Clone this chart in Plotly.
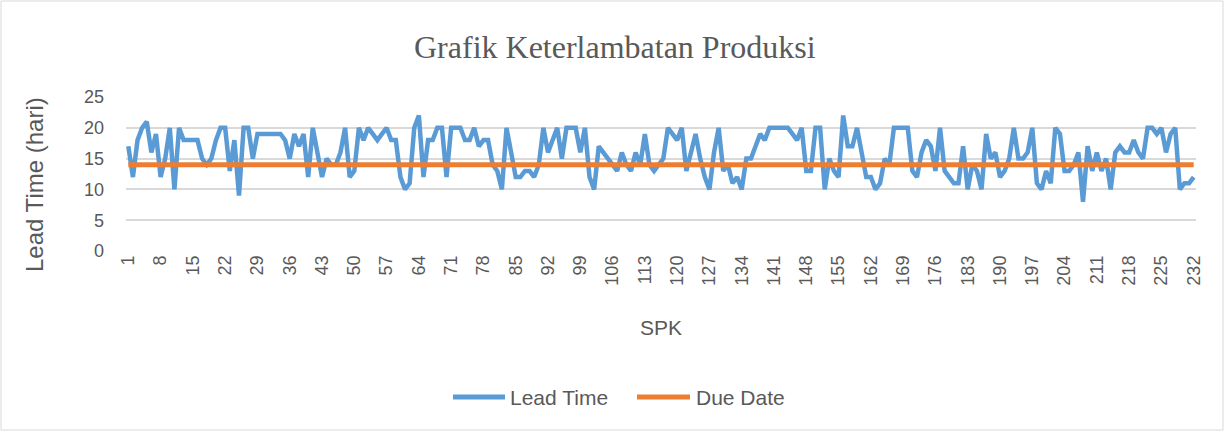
import plotly.graph_objects as go

lead_time = [
    17, 12, 18, 20, 21, 16, 19, 12, 15, 20,   # 1-10
    10, 20, 18, 18, 18, 18, 15, 14, 15, 18,   # 11-20
    20, 20, 13, 18, 9, 20, 20, 15, 19, 19,    # 21-30
    19, 19, 19, 19, 18, 15, 19, 17, 19, 12,   # 31-40
    20, 16, 12, 15, 14, 14, 16, 20, 12, 13,   # 41-50
    20, 18, 20, 19, 18, 19, 20, 18, 18, 12,   # 51-60
    10, 11, 20, 22, 12, 18, 18, 20, 20, 12,   # 61-70
    20, 20, 20, 18, 18, 20, 17, 18, 18, 14,   # 71-80
    13, 10, 20, 16, 12, 12, 13, 13, 12, 14,   # 81-90
    20, 16, 18, 20, 15, 20, 20, 20, 16, 20,   # 91-100
    12, 10, 17, 16, 15, 14, 13, 16, 14, 13,   # 101-110
    16, 14, 19, 14, 13, 14, 15, 20, 19, 18,   # 111-120
    20, 13, 16, 19, 15, 12, 10, 16, 20, 13,   # 121-130
    14, 11, 12, 10, 15, 15, 17, 19, 18, 20,   # 131-140
    20, 20, 20, 20, 19, 18, 20, 13, 13, 20,   # 141-150
    20, 10, 15, 13, 12, 22, 17, 17, 20, 16,   # 151-160
    12, 12, 10, 11, 15, 14, 20, 20, 20, 20,   # 161-170
    13, 12, 16, 18, 17, 13, 20, 13, 12, 11,   # 171-180
    11, 17, 10, 14, 13, 10, 19, 15, 16, 12,   # 181-190
    13, 15, 20, 15, 15, 16, 20, 11, 10, 13,   # 191-200
    11, 20, 19, 13, 13, 14, 16, 8, 17, 13,    # 201-210
    16, 13, 15, 10, 16, 17, 16, 16, 18, 16,   # 211-220
    15, 20, 20, 19, 20, 16, 19, 20, 10, 11,   # 221-230
    11, 12,                                   # 231-232
]
spk = list(range(1, len(lead_time) + 1))
due_date = [14] * len(spk)
x_tick_vals = list(range(1, 233, 7))
y_tick_vals = [0, 5, 10, 15, 20, 25]
series_names = ["Lead Time", "Due Date"]
series_colors = ["#5b9bd5", "#ed7d31"]

font_family = "Liberation Sans, Arial, sans-serif"
grey_text = "#595959"

# pixel -> paper helpers (plot area: x 126..1196, y 97..251)
def px(x):
    return (x - 126) / 1070

def py(y):
    return (251 - y) / 154

fig = go.Figure()
fig.add_trace(go.Scatter(x=spk, y=lead_time, mode="lines", name=series_names[0],
                         line=dict(color=series_colors[0], width=4.5)))
fig.add_trace(go.Scatter(x=spk, y=due_date, mode="lines", name=series_names[1],
                         line=dict(color=series_colors[1], width=5)))

fig.update_layout(
    width=1225, height=432,
    margin=dict(l=126, r=29, t=97, b=181),
    paper_bgcolor="white", plot_bgcolor="white",
    showlegend=False,
    font=dict(family=font_family, color=grey_text),
)
fig.update_xaxes(
    range=[0.5, 232.5], tickmode="array", tickvals=x_tick_vals,
    ticktext=[str(v) for v in x_tick_vals], tickangle=-90,
    tickfont=dict(family=font_family, size=18, color=grey_text),
    showgrid=False, zeroline=False, showline=False, ticks="",
)
fig.update_yaxes(
    range=[0, 25], tickmode="array", tickvals=y_tick_vals,
    tickfont=dict(family=font_family, size=18, color=grey_text),
    showgrid=True, gridcolor="#d9d9d9", gridwidth=1.5, zeroline=False,
    showline=False, ticks="", ticklabelstandoff=21,
)

fig.add_annotation(text="Grafik Keterlambatan Produksi", xref="paper", yref="paper",
                   x=px(615), y=py(47), showarrow=False,
                   xanchor="center", yanchor="middle",
                   font=dict(family="Liberation Serif, Times New Roman, serif", size=32, color=grey_text))
fig.add_annotation(text="Lead Time (hari)", xref="paper", yref="paper",
                   x=px(34), y=py(185), showarrow=False, textangle=-90,
                   xanchor="center", yanchor="middle",
                   font=dict(family=font_family, size=24, color=grey_text))
fig.add_annotation(text="SPK", xref="paper", yref="paper",
                   x=px(661), y=py(327), showarrow=False,
                   xanchor="center", yanchor="middle",
                   font=dict(family=font_family, size=21, color=grey_text))

# custom legend (key lines + labels)
legend_keys = [(453, 505, 508), (637, 690, 694)]
for (x0, x1, xt), name, color in zip(legend_keys, series_names, series_colors):
    fig.add_shape(type="line", xref="paper", yref="paper",
                  x0=px(x0), x1=px(x1), y0=py(397), y1=py(397),
                  line=dict(color=color, width=5))
    fig.add_annotation(text=name, xref="paper", yref="paper",
                       x=px(xt), y=py(397), showarrow=False,
                       xanchor="left", yanchor="middle",
                       font=dict(family=font_family, size=21, color=grey_text))

fig.add_shape(type="rect", xref="paper", yref="paper",
              x0=px(1), x1=px(1223), y0=py(430), y1=py(1),
              line=dict(color="#d9d9d9", width=1), fillcolor="rgba(0,0,0,0)", layer="below")

fig.write_html("out.html", config={"displayModeBar": False},
               post_script="document.body.style.margin='0';")
